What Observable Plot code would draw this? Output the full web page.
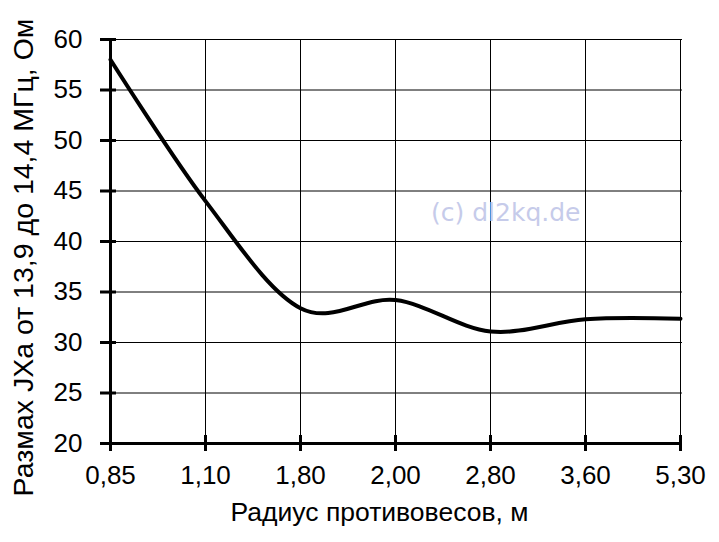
<!DOCTYPE html>
<html>
<head>
<meta charset="utf-8">
<script src="https://cdn.jsdelivr.net/npm/d3@7"></script>
<script src="https://cdn.jsdelivr.net/npm/@observablehq/plot@0.6"></script>
<style>
  html, body { margin: 0; padding: 0; background: #fff; }
  #wrap { position: relative; width: 719px; height: 542px; font-family: "Liberation Sans", Arial, sans-serif; }
  #wrap g[aria-label$="tick label"] { font-size: 26px; }
  #wm { position: absolute; left: 431px; top: 198px; font-family: "DejaVu Sans", Tahoma, sans-serif; font-size: 25px; color: #c6cbea; white-space: nowrap; }
</style>
</head>
<body>
<div id="wrap"><div id="wm">(c) dl2kq.de</div></div>
<script>
const categories = ["0,85", "1,10", "1,80", "2,00", "2,80", "3,60", "5,30"];
const values = [58.0, 44.0, 33.4, 34.2, 31.1, 32.3, 32.35];
const yTicks = [20, 25, 30, 35, 40, 45, 50, 55, 60];
const xTitle = "Радиус противовесов, м";
const yTitle = "Размах JXa от 13,9 до 14,4 МГц, Ом";

const rows = categories.map((c, i) => ({r: c, v: values[i]}));

const chart = Plot.plot({
  width: 719,
  height: 542,
  marginLeft: 108,
  marginRight: 37,
  marginTop: 39,
  marginBottom: 99,
  style: {fontFamily: "'Liberation Sans', Arial, sans-serif", fontSize: "26px", background: "white", color: "black"},
  x: {type: "point", domain: categories, padding: 0},
  y: {domain: [20, 60]},
  marks: [
    Plot.gridX(categories, {stroke: "black", strokeOpacity: 1, strokeWidth: 1}),
    Plot.gridY(yTicks, {stroke: "black", strokeOpacity: 1, strokeWidth: 1}),
    Plot.ruleY([20], {strokeWidth: 3}),
    Plot.ruleX([categories[0]], {strokeWidth: 3}),
    Plot.axisY(yTicks, {tickSize: 16, dx: 8, fill: "none", strokeWidth: 3, label: null}),
    Plot.axisX(categories, {tickSize: 16, dy: -8, fill: "none", strokeWidth: 3, label: null}),
    Plot.axisY(yTicks, {tickSize: 0, tickPadding: 26, fontSize: 26, label: null}),
    Plot.axisX(categories, {tickSize: 0, tickPadding: 22, fontSize: 26, label: null}),
    Plot.line(rows, {x: "r", y: "v", curve: "cardinal", stroke: "black", strokeWidth: 4}),
    Plot.text([xTitle], {frameAnchor: "bottom", text: d => d, textAnchor: "middle", dx: -16, dy: 69, fontSize: 26.5, lineAnchor: "middle"}),
    Plot.text([yTitle], {frameAnchor: "left", text: d => d, rotate: -90, textAnchor: "middle", dx: -85, dy: 16, fontSize: 28.5, lineAnchor: "middle"})
  ]
});
document.getElementById("wrap").prepend(chart);
</script>
</body>
</html>
